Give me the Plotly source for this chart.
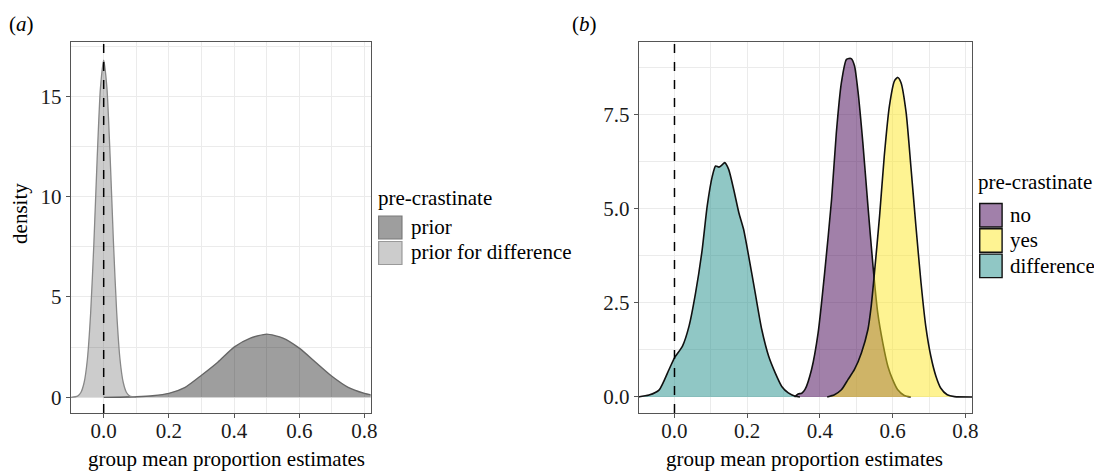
import plotly.graph_objects as go

# ---------------- data ----------------
# panel (a)
prior_x = [0.0, 0.05, 0.1, 0.15, 0.2, 0.25, 0.3, 0.35, 0.4, 0.45, 0.5, 0.55, 0.6, 0.65, 0.7, 0.75, 0.8, 0.82]
prior_y = [0.0, 0.005, 0.03, 0.08, 0.2, 0.5, 1.1, 1.75, 2.5, 2.95, 3.15, 2.95, 2.45, 1.75, 1.05, 0.5, 0.2, 0.12]

pdiff_x = [-0.1, -0.08, -0.07, -0.06, -0.05, -0.04, -0.03, -0.02, -0.01, 0.0, 0.01, 0.02, 0.03, 0.04, 0.05, 0.06, 0.07, 0.08, 0.1]
pdiff_y = [0.0, 0.06, 0.24, 0.74, 1.9, 4.2, 7.7, 11.9, 15.4, 16.8, 15.4, 11.9, 7.7, 4.2, 1.9, 0.74, 0.24, 0.06, 0.0]

# panel (b)
no_x = [0.33, 0.34, 0.35, 0.359, 0.377, 0.395, 0.413, 0.432, 0.445, 0.459, 0.473, 0.486, 0.495, 0.505,
        0.518, 0.532, 0.546, 0.559, 0.573, 0.587, 0.6, 0.614, 0.632, 0.65]
no_y = [0.0, 0.08, 0.1, 0.2, 0.73, 1.7, 3.3, 5.24, 7.0, 8.34, 8.96, 8.98, 8.79, 8.08,
        6.75, 5.07, 3.47, 2.23, 1.43, 0.81, 0.46, 0.19, 0.04, 0.0]

yes_x = [0.42, 0.44, 0.459, 0.477, 0.495, 0.514, 0.532, 0.541, 0.55, 0.564, 0.577, 0.591, 0.605, 0.614,
         0.623, 0.637, 0.65, 0.664, 0.678, 0.691, 0.705, 0.719, 0.732, 0.75, 0.77, 0.82]
yes_y = [0.0, 0.06, 0.19, 0.46, 0.73, 1.17, 1.79, 2.41, 3.3, 4.8, 6.4, 7.72, 8.39, 8.48,
         8.34, 7.55, 6.13, 4.53, 3.03, 1.88, 1.08, 0.55, 0.24, 0.06, 0.01, 0.0]

dif_x = [-0.1, -0.07, -0.042, -0.015, 0.0, 0.022, 0.04, 0.058, 0.076, 0.09, 0.104, 0.113, 0.122, 0.13,
         0.138, 0.149, 0.163, 0.177, 0.19, 0.204, 0.222, 0.24, 0.259, 0.277, 0.295, 0.313, 0.332, 0.345]
dif_y = [0.0, 0.05, 0.19, 0.73, 1.04, 1.35, 1.88, 2.76, 3.9, 5.07, 5.86, 6.13, 6.1, 6.15,
         6.22, 6.04, 5.5, 4.89, 4.45, 3.74, 2.76, 1.79, 1.08, 0.64, 0.28, 0.11, 0.02, 0.0]

x_ticks = [0.0, 0.2, 0.4, 0.6, 0.8]
x_tick_labels = ["0.0", "0.2", "0.4", "0.6", "0.8"]
ya_ticks = [0, 5, 10, 15]
ya_tick_labels = ["0", "5", "10", "15"]
yb_ticks = [0.0, 2.5, 5.0, 7.5]
yb_tick_labels = ["0.0", "2.5", "5.0", "7.5"]

legend_title = "pre-crastinate"
legend_a = ["prior", "prior for difference"]
legend_b = ["no", "yes", "difference"]
x_title = "group mean proportion estimates"
y_title = "density"

# ---------------- styling ----------------
# the page body has an 8px margin, so the figure is placed at (8, 8)
OFF = 8
W, H = 1102 - OFF, 472 - OFF
FONT = "Liberation Serif"
FS = 21
GRID = "#ebebeb"
BORDER = "#555555"

col_prior = "rgba(0,0,0,0.38)"
col_pdiff = "rgba(0,0,0,0.2)"
key_prior = "#9e9e9e"
key_pdiff = "#cccccc"
col_no = "rgba(68,1,84,0.5)"
col_yes = "rgba(253,231,37,0.5)"
col_dif = "rgba(33,144,140,0.5)"
key_no = "#a180aa"
key_yes = "#fef392"
key_dif = "#90c7c5"


def px(x):
    return (x - OFF) / W


def py(y):
    return 1 - (y - OFF) / H


fig = go.Figure()


def area(x, y, fill, line, xa, ya, width=1.3):
    fig.add_trace(go.Scatter(
        x=x, y=y, mode="lines", fill="tozeroy", fillcolor=fill,
        line=dict(color=line, width=width, shape="spline", smoothing=0.6),
        xaxis=xa, yaxis=ya, showlegend=False, hoverinfo="skip"))


area(prior_x, prior_y, col_prior, "#666666", "x", "y", 1.4)
area(pdiff_x, pdiff_y, col_pdiff, "#888888", "x", "y", 1.3)
area(no_x, no_y, col_no, "#111111", "x2", "y2", 1.6)
area(yes_x, yes_y, col_yes, "#111111", "x2", "y2", 1.6)
area(dif_x, dif_y, col_dif, "#111111", "x2", "y2", 1.6)

ax_common = dict(
    showline=True, mirror=True, linecolor=BORDER, linewidth=1,
    ticks="outside", ticklen=4, tickcolor=BORDER, tickwidth=1,
    showgrid=True, gridcolor=GRID, gridwidth=1.3, zeroline=False,
    tickfont=dict(family=FONT, size=FS, color="#1a1a1a"),
)
xminor = dict(tickvals=[-0.1, 0.1, 0.3, 0.5, 0.7], showgrid=True, gridcolor=GRID, gridwidth=0.8, ticks="")

fig.update_layout(
    width=W, height=H, margin=dict(l=0, r=0, t=0, b=0),
    paper_bgcolor="white", plot_bgcolor="white", showlegend=False,
    xaxis=dict(domain=[px(71), px(373)], range=[-0.1015, 0.819], anchor="y",
               tickvals=x_ticks, ticktext=x_tick_labels, ticklabelstandoff=-5,
               minor=xminor, **ax_common),
    yaxis=dict(domain=[py(413), py(42)], range=[-0.78, 17.7], anchor="x",
               tickvals=ya_ticks, ticktext=ya_tick_labels,
               minor=dict(tickvals=[2.5, 7.5, 12.5, 17.5], showgrid=True, gridcolor=GRID, gridwidth=0.8, ticks=""),
               **ax_common),
    xaxis2=dict(domain=[px(642.7), px(978.5)], range=[-0.0986, 0.819], anchor="y2",
                tickvals=x_ticks, ticktext=x_tick_labels, ticklabelstandoff=-5,
                minor=xminor, **ax_common),
    yaxis2=dict(domain=[py(413), py(42)], range=[-0.425, 9.42], anchor="x2",
                tickvals=yb_ticks, ticktext=yb_tick_labels,
                minor=dict(tickvals=[1.25, 3.75, 6.25, 8.75], showgrid=True, gridcolor=GRID, gridwidth=0.8, ticks=""),
                **ax_common),
)

# dashed reference lines at x = 0
for xr, yr in (("x", "y domain"), ("x2", "y2 domain")):
    fig.add_shape(type="line", xref=xr, yref=yr, x0=0, x1=0, y0=0, y1=1,
                  line=dict(color="black", width=1.5, dash="dash"), layer="above")

ann = []


def text(x, y, s, **kw):
    d = dict(x=px(x), y=py(y), xref="paper", yref="paper", text=s, showarrow=False,
             font=dict(family=FONT, size=FS, color="black"), xanchor="left", yanchor="middle")
    d.update(kw)
    ann.append(d)


# panel labels
text(7, 24, "(<i>a</i>)")
text(574, 24, "(<i>b</i>)")
# axis titles
text(20, 213, y_title, textangle=-90, xanchor="center")
text(228, 459, x_title, xanchor="center")
text(810, 459, x_title, xanchor="center")

# legend (a)
text(378, 198, legend_title)
keys_a = [(key_prior, "#7a7a7a"), (key_pdiff, "#999999")]
for i, (lab, (fc, lc)) in enumerate(zip(legend_a, keys_a)):
    y0 = 215 + i * 25.5
    fig.add_shape(type="rect", xref="paper", yref="paper",
                  x0=px(381), x1=px(404.5), y0=py(y0 + 1), y1=py(y0 + 24),
                  fillcolor=fc, line=dict(color=lc, width=1.2))
    text(412, y0 + 11.5, lab)

# legend (b)
text(982, 182, legend_title)
keys_b = [key_no, key_yes, key_dif]
for i, (lab, fc) in enumerate(zip(legend_b, keys_b)):
    y0 = 202.5 + i * 25.3
    fig.add_shape(type="rect", xref="paper", yref="paper",
                  x0=px(986), x1=px(1008.5), y0=py(y0 + 1), y1=py(y0 + 24.5),
                  fillcolor=fc, line=dict(color="#111111", width=1.4))
    text(1014, y0 + 12.5, lab)

fig.update_layout(annotations=ann)
fig.write_html("out.html")
